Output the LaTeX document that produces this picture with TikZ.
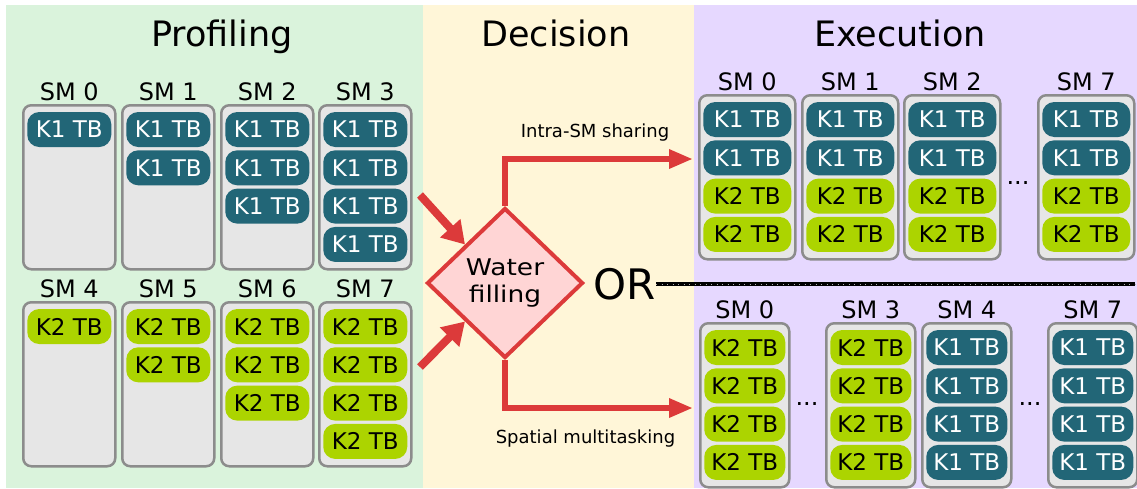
\documentclass[tikz,border=0pt]{standalone}
\usepackage{fontspec}
\setmainfont{DejaVu Sans}
\usetikzlibrary{shapes.geometric,arrows.meta,calc}

\definecolor{profbg}{HTML}{DAF3DC}
\definecolor{decbg}{HTML}{FFF6D8}
\definecolor{execbg}{HTML}{E6D8FF}
\definecolor{smfill}{HTML}{E6E6E6}
\definecolor{smedge}{HTML}{8C8C8C}
\definecolor{pill1}{HTML}{226677}
\definecolor{pill2}{HTML}{ACD400}
\definecolor{txt1}{HTML}{FFFFFF}
\definecolor{txt2}{HTML}{000000}
\definecolor{flowred}{HTML}{DC3A3A}
\definecolor{diafill}{HTML}{FFD5D5}

\newcommand\fsz[2]{\fontsize{#1}{#2}\selectfont}

% \smcolumn{name}{left x}{top y}{width}{label}{list of kernel ids, top to bottom}
\newcommand\smcolumn[6]{%
  \node[smbox, minimum width=#4pt] (#1) at (#2,#3) {};
  \node[smlabel] (#1-lbl) at ([yshift=4pt]#1.north) {#5};
  \foreach \k [count=\i] in {#6} {
    \node[pillbase, fill=pill\k, text=txt\k, minimum width={#4pt-8pt}]
      (#1-\i) at ([yshift={-25.5pt-(\i-1)*38.3pt}]#1.north) {K\k\ TB};
  }%
}

\begin{document}
\begin{tikzpicture}[x=1pt,y=-1pt,
  title/.style={font=\fsz{35}{40}, anchor=base, inner sep=0},
  smbox/.style={draw=smedge, line width=2.5pt, fill=smfill, rounded corners=8pt,
    anchor=north west, inner sep=0, minimum height=164pt},
  smlabel/.style={font=\fsz{24}{28}, anchor=base, inner sep=0},
  pillbase/.style={rounded corners=12pt, minimum height=35pt, inner sep=0,
    font=\fsz{23}{26}},
  flow/.style={draw=flowred, line width=6pt, -{Triangle[length=24pt,width=18pt]}},
  feed/.style={draw=flowred, line width=8pt, -{Triangle[length=22pt,width=26pt]}},
  small/.style={font=\fsz{18}{21}, inner sep=0},
  ellip/.style={font=\fsz{24}{28}, anchor=base, inner sep=0}
]
\useasboundingbox (0,0) rectangle (1137,488);

% phase backgrounds
\fill[profbg] (6,5) rectangle (423,488);
\fill[decbg] (423,5) rectangle (694,488);
\fill[execbg] (694,5) rectangle (1137,488);

\node[title] (tprof) at (222,46) {Profiling};
\node[title] (tdec) at (556,46) {Decision};
\node[title] (texec) at (900,46) {Execution};

% profiling: each kernel alone
\smcolumn{p0}{22}{104}{92}{SM 0}{1}
\smcolumn{p1}{121}{104}{92}{SM 1}{1,1}
\smcolumn{p2}{220}{104}{92}{SM 2}{1,1,1}
\smcolumn{p3}{318}{104}{92}{SM 3}{1,1,1,1}
\smcolumn{p4}{22}{301}{92}{SM 4}{2}
\smcolumn{p5}{121}{301}{92}{SM 5}{2,2}
\smcolumn{p6}{220}{301}{92}{SM 6}{2,2,2}
\smcolumn{p7}{318}{301}{92}{SM 7}{2,2,2,2}

% execution: intra-SM sharing
\smcolumn{a0}{698}{94}{96}{SM 0}{1,1,2,2}
\smcolumn{a1}{801}{94}{96}{SM 1}{1,1,2,2}
\smcolumn{a2}{903}{94}{96}{SM 2}{1,1,2,2}
\smcolumn{a7}{1037}{94}{96}{SM 7}{1,1,2,2}
\node[ellip] (dotsa) at (1018,184) {...};

% execution: spatial multitasking
\smcolumn{b0}{699}{322}{89}{SM 0}{2,2,2,2}
\smcolumn{b3}{825}{322}{89}{SM 3}{2,2,2,2}
\smcolumn{b4}{921}{322}{89}{SM 4}{1,1,1,1}
\smcolumn{b7}{1047}{322}{89}{SM 7}{1,1,1,1}
\node[ellip] (dotsb) at (807,405) {...};
\node[ellip] (dotsc) at (1030,405) {...};

% decision
\node[diamond, draw=flowred, line width=4pt, fill=diafill, minimum width=156pt,
  minimum height=150pt, inner sep=0, align=center,
  font=\fsz{23}{27}\addfontfeatures{FakeStretch=1.15}]
  (wf) at (505,283) {Water\\filling};

\coordinate (k1src) at (420,195);
\coordinate (k2src) at (420,367);
\draw[feed] (k1src) -- (wf.north west);
\draw[feed] (k2src) -- (wf.south west);

\coordinate (isend) at (693,159);
\coordinate (spend) at (693,408);
\draw[flow] (wf.north) |- (isend);
\draw[flow] (wf.south) |- (spend);

\node[small] (islbl) at (595,133) {Intra-SM sharing};
\node[small] (splbl) at (585.5,439) {Spatial multitasking};

\node[font=\fsz{42}{48}, inner sep=0, anchor=base] (ornode) at (624.7,299) {OR};
\coordinate (orend) at (1135,284);
\draw[black, line width=3.5pt] (ornode.east |- orend) -- (orend);
\draw[gray!60, line width=0.6pt, dash pattern=on 1pt off 4.5pt] (ornode.east |- orend) -- (orend);
\end{tikzpicture}
\end{document}
